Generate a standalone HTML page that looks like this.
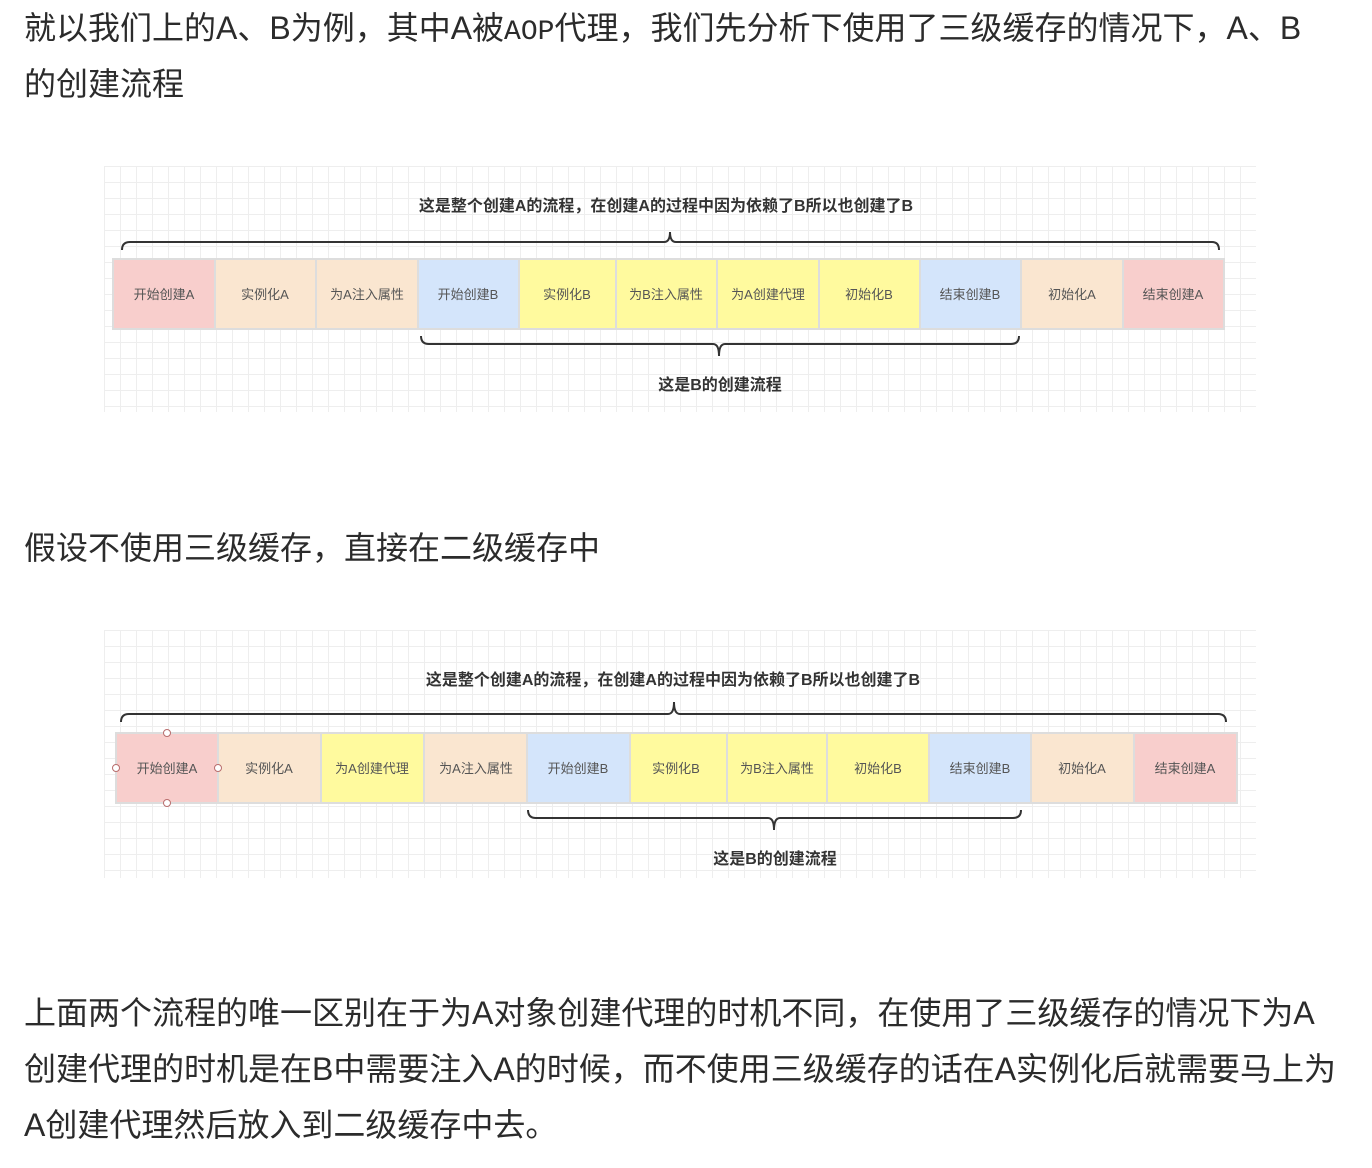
<!DOCTYPE html>
<html><head><meta charset="utf-8"><style>
body{margin:0;width:1372px;height:1168px;background:#fff;position:relative;overflow:hidden;font-family:"Liberation Sans","Noto Sans CJK SC",sans-serif;color:#2b2b2b}
.t{position:absolute;left:24px;font-size:32px;white-space:nowrap;line-height:40px}
.g{position:absolute;left:104px;width:1152px;background-color:#fff;background-image:linear-gradient(#eee 1px,transparent 1px),linear-gradient(90deg,#eee 1px,transparent 1px);background-size:16px 16px}
svg{position:absolute;left:0;top:0}
svg text{font-family:"Liberation Sans","Noto Sans CJK SC",sans-serif}
</style></head><body>
<div class="t" style="top:8px">就以我们上的A、B为例，其中A被<span style="font-family:'Liberation Mono',monospace;font-size:28px">AOP</span>代理，我们先分析下使用了三级缓存的情况下，A、B</div>
<div class="t" style="top:64px">的创建流程</div>
<div class="t" style="top:528px">假设不使用三级缓存，直接在二级缓存中</div>
<div class="t" style="top:993px">上面两个流程的唯一区别在于为A对象创建代理的时机不同，在使用了三级缓存的情况下为A</div>
<div class="t" style="top:1049px">创建代理的时机是在B中需要注入A的时候，而不使用三级缓存的话在A实例化后就需要马上为</div>
<div class="t" style="top:1105px">A创建代理然后放入到二级缓存中去。</div>
<div class="g" style="top:166px;height:246px"></div>
<div class="g" style="top:630px;height:248px"></div>
<svg width="1372" height="1168" font-size="13" fill="#333">
<g stroke="#ddd" stroke-width="2">
<rect x="113" y="259" width="102" height="70" fill="#f8cecc"/>
<rect x="215" y="259" width="101" height="70" fill="#fae6d0"/>
<rect x="316" y="259" width="102" height="70" fill="#fae6d0"/>
<rect x="418" y="259" width="101" height="70" fill="#d4e5fb"/>
<rect x="519" y="259" width="97" height="70" fill="#fffa9e"/>
<rect x="616" y="259" width="101" height="70" fill="#fffa9e"/>
<rect x="717" y="259" width="102" height="70" fill="#fffa9e"/>
<rect x="819" y="259" width="101" height="70" fill="#fffa9e"/>
<rect x="920" y="259" width="101" height="70" fill="#d4e5fb"/>
<rect x="1021" y="259" width="102" height="70" fill="#fae6d0"/>
<rect x="1123" y="259" width="101" height="70" fill="#f8cecc"/>
</g>
<g text-anchor="middle" fill="#555">
<text x="164" y="299">开始创建A</text><text x="265" y="299">实例化A</text><text x="367" y="299">为A注入属性</text><text x="468" y="299">开始创建B</text><text x="567" y="299">实例化B</text><text x="666" y="299">为B注入属性</text><text x="768" y="299">为A创建代理</text><text x="869" y="299">初始化B</text><text x="970" y="299">结束创建B</text><text x="1072" y="299">初始化A</text><text x="1173" y="299">结束创建A</text>
</g>
<g fill="none" stroke="#333" stroke-width="2">
<path d="M122 250 Q122 242 130 242 L664 242 Q670 242 670 232 Q670 242 676 242 L1212 242 Q1219 242 1219 250"/>
<path d="M421 336 Q421 344 429 344 L713 344 Q719 344 719 356 Q719 344 725 344 L1011 344 Q1019 344 1019 336"/>
</g>
<text x="666" y="211" text-anchor="middle" font-weight="bold" font-size="16">这是整个创建A的流程，在创建A的过程中因为依赖了B所以也创建了B</text>
<text x="720" y="390" text-anchor="middle" font-weight="bold" font-size="16">这是B的创建流程</text>

<g stroke="#ddd" stroke-width="2">
<rect x="116" y="733" width="102" height="70" fill="#f8cecc"/>
<rect x="218" y="733" width="103" height="70" fill="#fae6d0"/>
<rect x="321" y="733" width="103" height="70" fill="#fffa9e"/>
<rect x="424" y="733" width="103" height="70" fill="#fae6d0"/>
<rect x="527" y="733" width="103" height="70" fill="#d4e5fb"/>
<rect x="630" y="733" width="97" height="70" fill="#fffa9e"/>
<rect x="727" y="733" width="100" height="70" fill="#fffa9e"/>
<rect x="827" y="733" width="102" height="70" fill="#fffa9e"/>
<rect x="929" y="733" width="102" height="70" fill="#d4e5fb"/>
<rect x="1031" y="733" width="103" height="70" fill="#fae6d0"/>
<rect x="1134" y="733" width="103" height="70" fill="#f8cecc"/>
</g>
<g text-anchor="middle" fill="#555">
<text x="167" y="773">开始创建A</text><text x="269" y="773">实例化A</text><text x="372" y="773">为A创建代理</text><text x="476" y="773">为A注入属性</text><text x="578" y="773">开始创建B</text><text x="676" y="773">实例化B</text><text x="777" y="773">为B注入属性</text><text x="878" y="773">初始化B</text><text x="980" y="773">结束创建B</text><text x="1082" y="773">初始化A</text><text x="1185" y="773">结束创建A</text>
</g>
<g fill="#fff" stroke="#b86d6d" stroke-width="1">
<circle cx="167" cy="733" r="3.5"/><circle cx="167" cy="803" r="3.5"/><circle cx="116" cy="768" r="3.5"/><circle cx="218" cy="768" r="3.5"/>
</g>
<g fill="none" stroke="#333" stroke-width="2">
<path d="M121 722 Q121 714 129 714 L668 714 Q674 714 674 702 Q674 714 680 714 L1218 714 Q1226 714 1226 722"/>
<path d="M528 810 Q528 818 536 818 L768 818 Q774 818 774 830 Q774 818 780 818 L1013 818 Q1021 818 1021 810"/>
</g>
<text x="673" y="685" text-anchor="middle" font-weight="bold" font-size="16">这是整个创建A的流程，在创建A的过程中因为依赖了B所以也创建了B</text>
<text x="775" y="864" text-anchor="middle" font-weight="bold" font-size="16">这是B的创建流程</text>
</svg>
</body></html>
